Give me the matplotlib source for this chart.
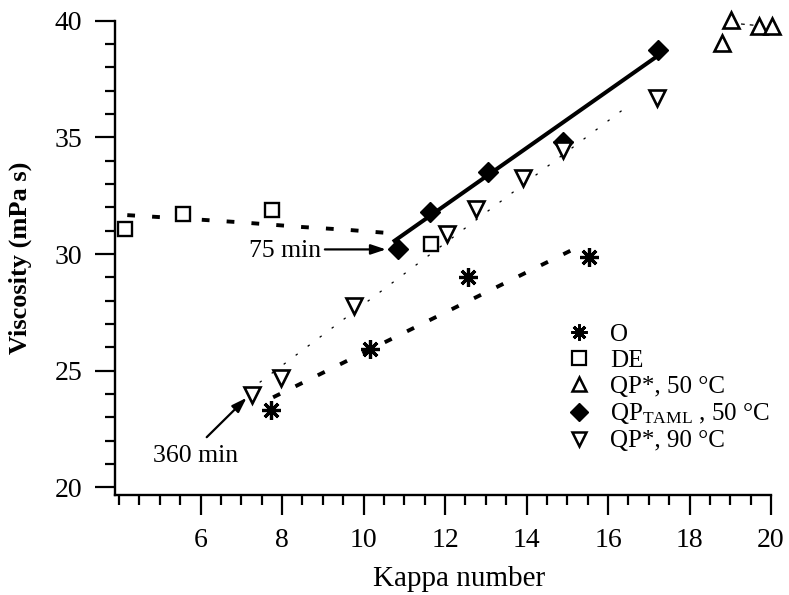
import matplotlib.pyplot as plt
from matplotlib.lines import Line2D
from matplotlib.ticker import MultipleLocator

plt.rcParams['font.family'] = ['Liberation Serif', 'DejaVu Serif']
plt.rcParams['mathtext.fontset'] = 'custom'
plt.rcParams['mathtext.rm'] = 'Liberation Serif'
plt.rcParams['mathtext.it'] = 'Liberation Serif:italic'
plt.rcParams['mathtext.bf'] = 'Liberation Serif:bold'

# measured points: kappa number vs viscosity (mPa s)
o_kappa = [7.74, 10.15, 12.56, 15.54]
o_visc = [23.32, 25.91, 29.01, 29.87]

de_kappa = [4.14, 5.56, 7.76, 11.66]
de_visc = [31.06, 31.73, 31.88, 30.45]

qp50_kappa = [18.79, 19.01, 19.71, 20.02]
qp50_visc = [39.06, 40.03, 39.77, 39.77]

taml_kappa = [10.84, 11.62, 13.05, 14.89, 17.22]
taml_visc = [30.23, 31.80, 33.52, 34.81, 38.77]

qp90_kappa = [7.25, 7.97, 9.76, 12.05, 12.75, 13.92, 14.89, 17.20]
qp90_visc = [23.94, 24.70, 27.76, 30.88, 31.95, 33.28, 34.45, 36.71]

# trend lines
de_fit_kappa = [4.2, 5.6, 7.0, 8.5, 9.6, 10.7]
de_fit_visc = [31.67, 31.52, 31.36, 31.16, 31.04, 30.89]
o_fit_kappa = [7.78, 15.34]
o_fit_visc = [23.86, 30.37]
taml_fit_kappa = [10.72, 17.18]
taml_fit_visc = [30.52, 38.45]
qp90_fit_kappa = [7.45, 16.48]
qp90_fit_visc = [24.5, 36.34]
qp50_fit_kappa = [19.05, 19.65]
qp50_fit_visc = [39.9, 39.8]

fig = plt.figure(figsize=(7.89, 5.95), dpi=100)
ax = fig.add_axes([0.1458, 0.168, 0.8314, 0.797])

# fitted lines first so the markers sit on top
thick_dash = (0, (2.0, 4.4))
ax.plot(de_fit_kappa, de_fit_visc, color='black', lw=2.8, ls=thick_dash, zorder=2)
ax.plot(o_fit_kappa, o_fit_visc, color='black', lw=2.8, ls=thick_dash, zorder=2)
ax.plot(taml_fit_kappa, taml_fit_visc, color='black', lw=2.9, solid_capstyle='butt', zorder=2)
ax.plot(qp90_fit_kappa, qp90_fit_visc, color='black', lw=0.9, ls=(0, (2, 10)), zorder=2)
ax.plot(qp50_fit_kappa, qp50_fit_visc, color='black', lw=0.9, ls=(0, (3, 4)), zorder=2)

mk = dict(ls='none', color='black', zorder=3, clip_on=False)
ax.plot(o_kappa, o_visc, marker=(8, 2, 0), ms=13.5, mew=2.3, **mk)
ax.plot(de_kappa, de_visc, marker='s', ms=10.5, mew=1.7, mfc='white', **mk)
ax.plot(qp50_kappa, qp50_visc, marker='^', ms=11.5, mew=1.9, mfc='white', **mk)
ax.plot(taml_kappa, taml_visc, marker='D', ms=10, mew=1.0, **mk)
ax.plot(qp90_kappa, qp90_visc, marker='v', ms=11.5, mew=1.9, mfc='white', **mk)

ax.set_xlim(3.9, 20)
ax.set_ylim(19.67, 40)
ax.xaxis.set_major_locator(MultipleLocator(2))
ax.xaxis.set_minor_locator(MultipleLocator(0.5))
ax.yaxis.set_major_locator(MultipleLocator(5))
ax.yaxis.set_minor_locator(MultipleLocator(1))
ax.set_xticks([6, 8, 10, 12, 14, 16, 18, 20])

for s in ['top', 'right']:
    ax.spines[s].set_visible(False)
for s in ['left', 'bottom']:
    ax.spines[s].set_linewidth(1.7)

ax.tick_params(which='major', direction='out', length=14.5, width=1.6,
               labelsize=20, pad=9)
ax.tick_params(which='minor', direction='out', length=7.2, width=1.6)

ax.set_xlabel('Kappa number', fontsize=21)
ax.xaxis.set_label_coords(0.525, -0.15)
ax.set_ylabel('Viscosity (mPa s)', fontsize=19, fontweight='bold')
ax.yaxis.set_label_coords(-0.126, 0.5)

# reaction time annotations
ax.text(8.97, 30.13, '75 min', fontsize=18.5, ha='right', va='center')
ax.annotate('', xy=(10.55, 30.2), xytext=(9.05, 30.2),
            arrowprops=dict(arrowstyle='-|>,head_length=0.9,head_width=0.3',
                            color='black', lw=1.6, shrinkA=0, shrinkB=0))
ax.text(5.88, 21.36, '360 min', fontsize=18.5, ha='center', va='center')
ax.annotate('', xy=(7.13, 23.84), xytext=(6.15, 22.15),
            arrowprops=dict(arrowstyle='-|>,head_length=0.9,head_width=0.3',
                            color='black', lw=1.6, shrinkA=0, shrinkB=0))

handles = [
    Line2D([], [], marker=(8, 2, 0), ms=11.5, mew=2.1, **mk),
    Line2D([], [], marker='s', ms=9.5, mew=1.6, mfc='white', **mk),
    Line2D([], [], marker='^', ms=10, mew=1.8, mfc='white', **mk),
    Line2D([], [], marker='D', ms=9, mew=1.0, **mk),
    Line2D([], [], marker='v', ms=10, mew=1.8, mfc='white', **mk),
]
labels = ['O', 'DE', 'QP*, 50 °C', 'QP$_{\\mathrm{TAML}}$ , 50 °C', 'QP*, 90 °C']
ax.legend(handles, labels, loc='upper left', bbox_to_anchor=(0.688, 0.362),
          frameon=False, fontsize=18, handlelength=1.0, handletextpad=0.75,
          labelspacing=0.14, borderpad=0, borderaxespad=0)

fig.savefig('out.png', dpi=100)
